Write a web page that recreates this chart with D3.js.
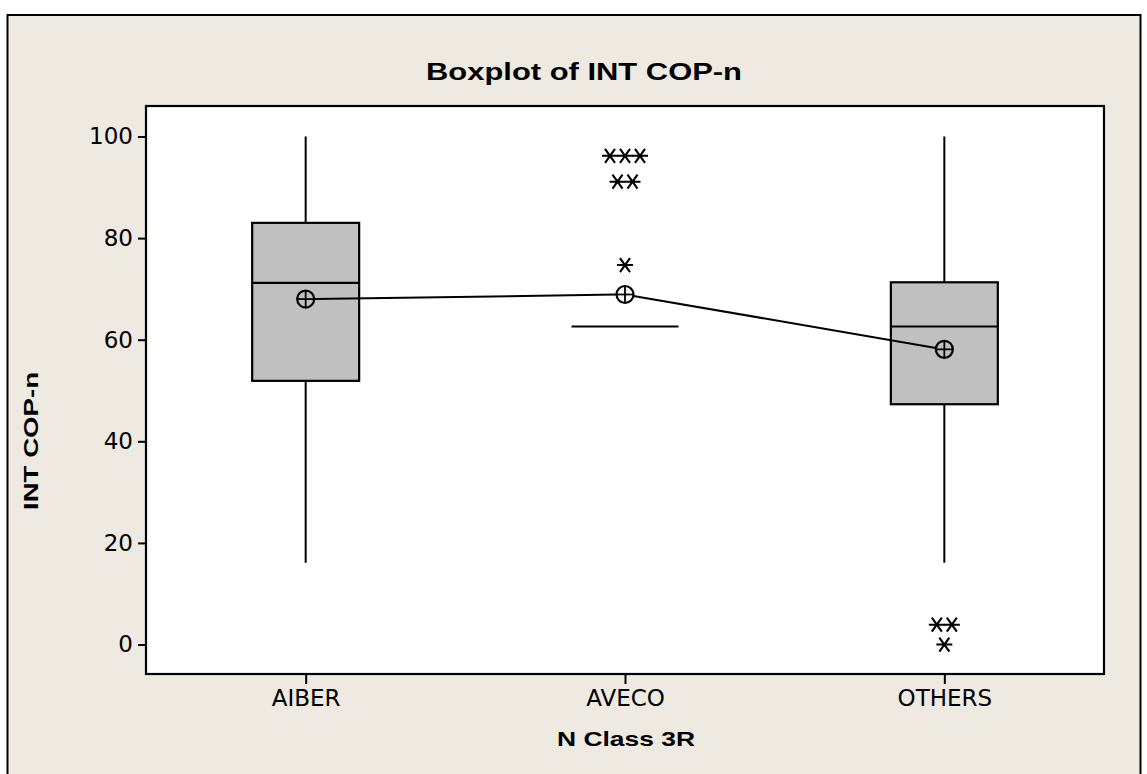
<!DOCTYPE html>
<html>
<head>
<meta charset="utf-8">
<script src="https://cdn.jsdelivr.net/npm/d3@7"></script>
<style>
  html, body { margin: 0; padding: 0; background: #ffffff; }
  svg { display: block; }
</style>
</head>
<body>
<svg id="chart" width="1147" height="774"></svg>
<script>
// Boxplot of INT COP-n by N Class 3R
const categories = ["AIBER", "AVECO", "OTHERS"];
const whiskerLow  = [16.1, 62.6, 16.1];
const q1          = [51.9, 62.6, 47.3];
const medians     = [71.2, 62.6, 62.6];
const q3          = [83.0, 62.6, 71.3];
const whiskerHigh = [100, 62.6, 100];
const means       = [68.0, 68.9, 58.1];

// Outliers: category and value (duplicates are shown side by side)
const outlierCat = ["AVECO", "AVECO", "AVECO", "AVECO", "AVECO", "AVECO", "OTHERS", "OTHERS", "OTHERS"];
const outlierVal = [96.2, 96.2, 96.2, 91.1, 91.1, 74.7, 3.9, 3.9, 0];

const yTicks = [0, 20, 40, 60, 80, 100];
const titleText = "Boxplot of INT COP-n";
const xTitle = "N Class 3R";
const yTitle = "INT COP-n";

const svg = d3.select("#chart");
const plot = { left: 146, top: 106, right: 1104, bottom: 674 };

const tickFont = "'DejaVu Sans', Tahoma, sans-serif";
const boldFont = "'Liberation Sans', Arial, sans-serif";

// outer panel
svg.append("rect")
  .attr("x", 7.5).attr("y", 15).attr("width", 1133).attr("height", 800)
  .attr("fill", "#eeeae1").attr("stroke", "#000").attr("stroke-width", 2);

const x = d3.scalePoint().domain(categories).range([plot.left, plot.right]).padding(0.5);
const y = d3.scaleLinear().domain([-5.8, 106]).range([plot.bottom, plot.top]);

// data region
svg.append("rect")
  .attr("x", plot.left).attr("y", plot.top)
  .attr("width", plot.right - plot.left).attr("height", plot.bottom - plot.top)
  .attr("fill", "#ffffff");

const boxW = x.step() * 0.335;

const stats = categories.map((c, i) => ({
  cat: c, lo: whiskerLow[i], q1: q1[i], med: medians[i], q3: q3[i], hi: whiskerHigh[i], mean: means[i]
}));

const g = svg.append("g");

// whiskers
g.selectAll("line.wlo").data(stats).join("line")
  .attr("x1", d => x(d.cat)).attr("x2", d => x(d.cat))
  .attr("y1", d => y(d.lo)).attr("y2", d => y(d.q1))
  .attr("stroke", "#000").attr("stroke-width", 2);
g.selectAll("line.whi").data(stats).join("line")
  .attr("x1", d => x(d.cat)).attr("x2", d => x(d.cat))
  .attr("y1", d => y(d.q3)).attr("y2", d => y(d.hi))
  .attr("stroke", "#000").attr("stroke-width", 2);

// boxes (IQR)
g.selectAll("rect.box").data(stats.filter(d => d.q3 > d.q1)).join("rect")
  .attr("x", d => x(d.cat) - boxW / 2)
  .attr("y", d => y(d.q3))
  .attr("width", boxW)
  .attr("height", d => y(d.q1) - y(d.q3))
  .attr("fill", "#c0c0c0").attr("stroke", "#000").attr("stroke-width", 2.2);

// medians
g.selectAll("line.med").data(stats).join("line")
  .attr("x1", d => x(d.cat) - boxW / 2).attr("x2", d => x(d.cat) + boxW / 2)
  .attr("y1", d => y(d.med)).attr("y2", d => y(d.med))
  .attr("stroke", "#000").attr("stroke-width", 2.2);

// mean connect line, trimmed at the symbol edges
const r = 8.5;
for (let i = 0; i < stats.length - 1; i++) {
  const x1 = x(stats[i].cat), y1 = y(stats[i].mean);
  const x2 = x(stats[i + 1].cat), y2 = y(stats[i + 1].mean);
  const len = Math.hypot(x2 - x1, y2 - y1);
  const ux = (x2 - x1) / len, uy = (y2 - y1) / len;
  g.append("line")
    .attr("x1", x1 + ux * r).attr("y1", y1 + uy * r)
    .attr("x2", x2 - ux * r).attr("y2", y2 - uy * r)
    .attr("stroke", "#000").attr("stroke-width", 2);
}

// mean symbols: circle with crosshair
const meanG = g.selectAll("g.mean").data(stats).join("g")
  .attr("transform", d => `translate(${x(d.cat)},${y(d.mean)})`);
meanG.append("circle").attr("r", r).attr("fill", "none").attr("stroke", "#000").attr("stroke-width", 2.2);
meanG.append("line").attr("x1", -r).attr("x2", r).attr("y1", 0).attr("y2", 0).attr("stroke", "#000").attr("stroke-width", 1.8);
meanG.append("line").attr("x1", 0).attr("x2", 0).attr("y1", -r).attr("y2", r).attr("stroke", "#000").attr("stroke-width", 1.8);

// outliers, side by side when tied
const outliers = outlierCat.map((c, i) => ({ cat: c, v: outlierVal[i] }));
const groups = d3.groups(outliers, d => d.cat, d => d.v);
const starStep = 15;
const starPath = "M-8,0L8,0M-5,-7L5,7M-5,7L5,-7";
groups.forEach(([cat, byVal]) => {
  byVal.forEach(([v, items]) => {
    items.forEach((d, k) => {
      const off = (k - (items.length - 1) / 2) * starStep;
      g.append("path")
        .attr("d", starPath)
        .attr("transform", `translate(${x(cat) + off},${y(v)})`)
        .attr("stroke", "#000").attr("stroke-width", 2.1).attr("fill", "none");
    });
  });
});

// plot border
svg.append("rect")
  .attr("x", plot.left).attr("y", plot.top)
  .attr("width", plot.right - plot.left).attr("height", plot.bottom - plot.top)
  .attr("fill", "none").attr("stroke", "#000").attr("stroke-width", 2.2);

// axes
const yAxis = svg.append("g")
  .attr("transform", `translate(${plot.left},0)`)
  .call(d3.axisLeft(y).tickValues(yTicks).tickSize(8).tickPadding(5));
const xAxis = svg.append("g")
  .attr("transform", `translate(0,${plot.bottom})`)
  .call(d3.axisBottom(x).tickSize(10).tickPadding(6));
[yAxis, xAxis].forEach(a => {
  a.select(".domain").remove();
  a.selectAll(".tick line").attr("stroke", "#000").attr("stroke-width", 2);
  a.selectAll(".tick text").attr("fill", "#000")
    .style("font-family", tickFont).style("font-size", "23px");
});

// title and axis titles
svg.append("text")
  .attr("x", 426).attr("y", 80)
  .attr("textLength", 316).attr("lengthAdjust", "spacingAndGlyphs")
  .style("font-family", boldFont).style("font-weight", "bold").style("font-size", "24px")
  .text(titleText);

svg.append("text")
  .attr("x", 557).attr("y", 746)
  .attr("textLength", 138).attr("lengthAdjust", "spacingAndGlyphs")
  .style("font-family", boldFont).style("font-weight", "bold").style("font-size", "21px")
  .text(xTitle);

svg.append("text")
  .attr("transform", "translate(38,510) rotate(-90)")
  .attr("textLength", 138).attr("lengthAdjust", "spacingAndGlyphs")
  .style("font-family", boldFont).style("font-weight", "bold").style("font-size", "21px")
  .text(yTitle);
</script>
</body>
</html>
